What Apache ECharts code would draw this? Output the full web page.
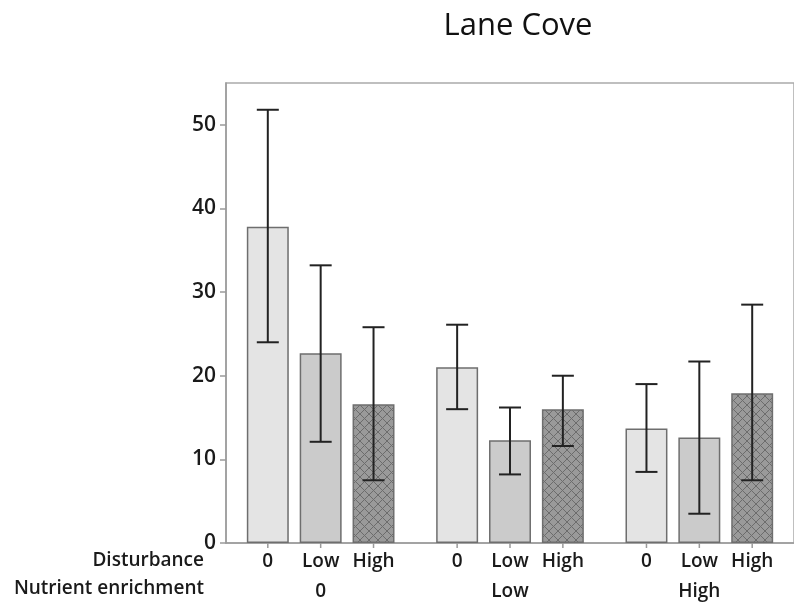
<!DOCTYPE html>
<html>
<head>
<meta charset="utf-8">
<script src="https://cdn.jsdelivr.net/npm/echarts@6/dist/echarts.min.js"></script>
<style>
  html, body { margin: 0; padding: 0; background: #fff; }
  #chart { width: 794px; height: 603px; }
</style>
</head>
<body>
<div id="chart"></div>
<script>
// Nutrient enrichment groups along the x axis
const nutrientLevels = ['0', 'Low', 'High'];
// Disturbance levels inside each group
const disturbanceLevels = ['0', 'Low', 'High'];

// Mean values per disturbance level, one entry per nutrient group
const meanDist0 = [37.8, 21.0, 13.7];
const meanDistLow = [22.7, 12.3, 12.6];
const meanDistHigh = [16.6, 16.0, 17.9];

// Error bar lower / upper limits
const lowDist0 = [24.0, 16.0, 8.5];
const highDist0 = [51.8, 26.1, 19.0];
const lowDistLow = [12.1, 8.2, 3.5];
const highDistLow = [33.2, 16.2, 21.7];
const lowDistHigh = [7.5, 11.6, 7.5];
const highDistHigh = [25.8, 20.0, 28.5];

const yTicks = [0, 10, 20, 30, 40, 50];

const FONT = '"Open Sans", "Noto Sans", sans-serif';
const TEXT = '#1a1a1a';

// cross-hatch fill for the "High" disturbance bars
function hatchPattern() {
  const c = document.createElement('canvas');
  const s = 9;
  c.width = s; c.height = s;
  const g = c.getContext('2d');
  g.fillStyle = '#9a9a9a';
  g.fillRect(0, 0, s, s);
  g.strokeStyle = '#6c6c6c';
  g.lineWidth = 1;
  g.beginPath();
  g.moveTo(0, 0); g.lineTo(s, s);
  g.moveTo(s, 0); g.lineTo(0, s);
  g.stroke();
  return c;
}

const BAR_GAP = 0.26;
const CAT_GAP = 0.22;

const means = [meanDist0, meanDistLow, meanDistHigh];
const lows = [lowDist0, lowDistLow, lowDistHigh];
const highs = [highDist0, highDistLow, highDistHigh];
const fills = ['#e4e4e4', '#cbcbcb', { image: hatchPattern(), repeat: 'repeat' }];

const barSeries = disturbanceLevels.map((name, d) => ({
  name: name,
  type: 'bar',
  data: means[d],
  barGap: (BAR_GAP * 100) + '%',
  barCategoryGap: (CAT_GAP * 100) + '%',
  itemStyle: { color: fills[d], borderColor: '#6e6e6e', borderWidth: 1.5 },
  label: {
    show: true,
    position: 'bottom',
    distance: 9,
    formatter: name,
    fontFamily: FONT,
    fontSize: 19,
    fontWeight: 600,
    color: TEXT
  },
  emphasis: { disabled: true },
  silent: true
}));

// error bar records: [group, low, high, disturbance index]
const errData = [];
for (let d = 0; d < 3; d++) {
  for (let i = 0; i < nutrientLevels.length; i++) {
    errData.push([i, lows[d][i], highs[d][i], d]);
  }
}

const errSeries = {
  type: 'custom',
  data: errData,
  encode: { x: 0, y: [1, 2] },
  z: 10,
  silent: true,
  renderItem: function (params, api) {
    const cat = api.value(0);
    const d = api.value(3);
    const catW = api.size([1, 0])[0];
    const barW = catW * (1 - CAT_GAP) / (3 + 2 * BAR_GAP);
    const step = barW * (1 + BAR_GAP);
    const lo = api.coord([cat, api.value(1)]);
    const hi = api.coord([cat, api.value(2)]);
    const base = api.coord([cat, 0]);
    const x = lo[0] + (d - 1) * step;
    const cap = 11;
    const st = { stroke: '#222', lineWidth: 2 };
    return {
      type: 'group',
      children: [
        { type: 'line', shape: { x1: x, y1: hi[1], x2: x, y2: lo[1] }, style: st },
        { type: 'line', shape: { x1: x - cap, y1: hi[1], x2: x + cap, y2: hi[1] }, style: st },
        { type: 'line', shape: { x1: x - cap, y1: lo[1], x2: x + cap, y2: lo[1] }, style: st },
        { type: 'line', shape: { x1: x, y1: base[1], x2: x, y2: base[1] + 5 }, style: { stroke: '#9a9a9a', lineWidth: 1.5 } }
      ]
    };
  }
};

const chart = echarts.init(document.getElementById('chart'), null, { renderer: 'canvas' });
chart.setOption({
  animation: false,
  backgroundColor: '#ffffff',
  title: {
    text: 'Lane Cove',
    left: 513,
    textAlign: 'center',
    top: 6,
    textStyle: { fontFamily: FONT, fontSize: 31, fontWeight: 400, color: '#111' }
  },
  grid: {
    left: 226, right: -5, top: 83, bottom: 60,
    show: true, borderColor: '#ababab', borderWidth: 1.5, backgroundColor: 'transparent'
  },
  xAxis: {
    type: 'category',
    data: nutrientLevels,
    axisLine: { show: true, lineStyle: { color: '#9a9a9a', width: 1.5 } },
    axisTick: { show: false },
    axisLabel: {
      margin: 39,
      fontFamily: FONT, fontSize: 19, fontWeight: 600, color: TEXT
    },
    splitLine: { show: false }
  },
  yAxis: {
    type: 'value',
    min: 0,
    max: 55,
    interval: 10,
    axisLine: { show: true, lineStyle: { color: '#9a9a9a', width: 1.5 } },
    axisTick: { show: true, length: 6, customValues: yTicks, lineStyle: { color: '#9a9a9a', width: 1.5 } },
    axisLabel: {
      customValues: yTicks,
      margin: 10,
      fontFamily: FONT, fontSize: 21, fontWeight: 600, color: TEXT
    },
    splitLine: { show: false }
  },
  graphic: [
    {
      type: 'text', right: 794 - 204, top: 551,
      style: { text: 'Disturbance', fontFamily: FONT, fontSize: 19, fontWeight: 600, fill: TEXT, textAlign: 'right' }
    },
    {
      type: 'text', right: 794 - 204, top: 579,
      style: { text: 'Nutrient enrichment', fontFamily: FONT, fontSize: 19, fontWeight: 600, fill: TEXT, textAlign: 'right' }
    }
  ],
  series: barSeries.concat([errSeries])
});
</script>
</body>
</html>
